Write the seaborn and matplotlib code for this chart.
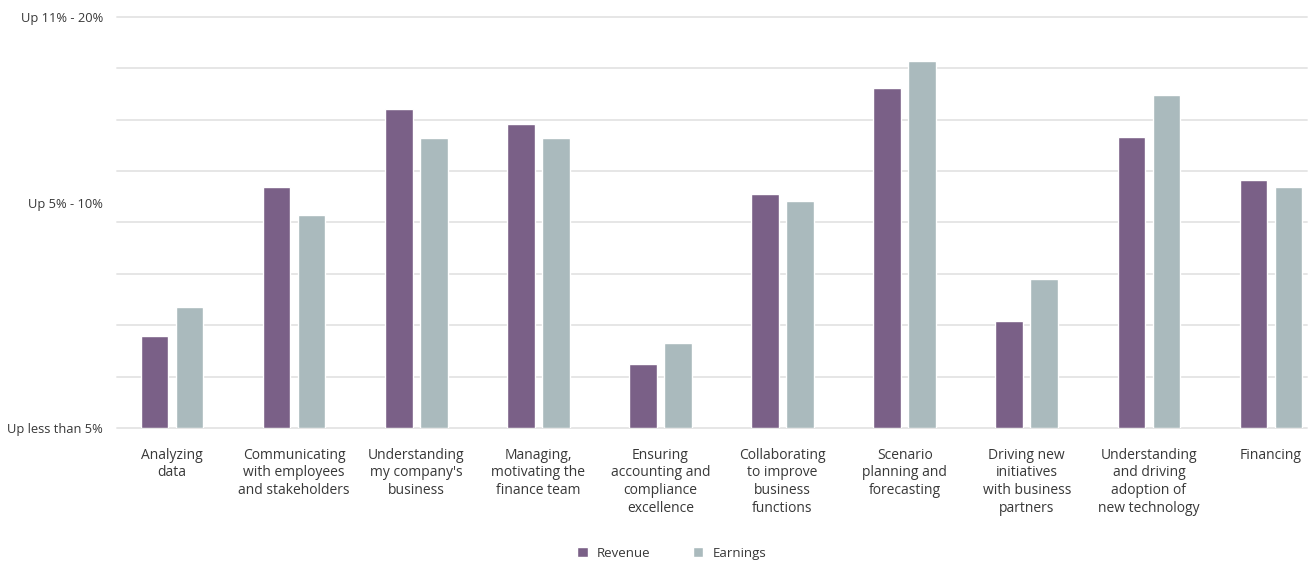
import pandas as pd
import matplotlib
matplotlib.use("Agg")
import matplotlib.pyplot as plt
import seaborn as sns

# Data (scale: 0 = bottom gridline, 8 = top gridline)
categories = [
    "Analyzing\ndata",
    "Communicating\nwith employees\nand stakeholders",
    "Understanding\nmy company's\nbusiness",
    "Managing,\nmotivating the\nfinance team",
    "Ensuring\naccounting and\ncompliance\nexcellence",
    "Collaborating\nto improve\nbusiness\nfunctions",
    "Scenario\nplanning and\nforecasting",
    "Driving new\ninitiatives\nwith business\npartners",
    "Understanding\nand driving\nadoption of\nnew technology",
    "Financing",
]
revenue = [1.79, 4.69, 6.21, 5.92, 1.25, 4.55, 6.62, 2.09, 5.66, 4.83]
earnings = [2.36, 4.15, 5.64, 5.64, 1.66, 4.42, 7.14, 2.90, 6.48, 4.69]
series_names = ["Revenue", "Earnings"]
ytick_values = [0, 4.38, 8]
ytick_labels = ["Up less than 5%", "Up 5% - 10%", "Up 11% - 20%"]

df = pd.DataFrame({
    "category": categories * 2,
    "value": revenue + earnings,
    "series": [series_names[0]] * len(categories) + [series_names[1]] * len(categories),
})

sns.set_style("white")
plt.rcParams["font.family"] = ["Open Sans", "DejaVu Sans"]

text_color = "#383838"
palette = {"Revenue": "#7a6087", "Earnings": "#aababd"}

fig = plt.figure(figsize=(13.12, 5.63), dpi=100)
ax = fig.add_axes([0.0892, 0.2393, 0.907, 0.731])

sns.barplot(data=df, x="category", y="value", hue="series", order=categories,
            hue_order=series_names, palette=palette, width=0.573, gap=0.21,
            saturation=1, ax=ax, legend=True)

ax.set_ylim(0, 8)
ax.set_xlim(-0.45, 9.295)
ax.yaxis.remove_overlapping_locs = False
ax.set_yticks(ytick_values)
ax.set_yticklabels(ytick_labels, fontsize=9.3, color=text_color)
ax.set_yticks(range(0, 9), minor=True)
ax.grid(False)
ax.grid(axis="y", which="minor", color="#e6e6e6", linewidth=1.4)
for tick in ax.yaxis.get_minor_ticks():
    tick.gridline.set_clip_on(False)
ax.set_axisbelow(True)
ax.tick_params(axis="y", which="both", length=0, pad=10)
ax.tick_params(axis="x", length=0, pad=14)
for lab in ax.get_xticklabels():
    lab.set_fontsize(10)
    lab.set_color(text_color)
    lab.set_linespacing(1.25)
    lab.set_verticalalignment("top")
ax.set_xlabel("")
ax.set_ylabel("")
sns.despine(ax=ax, left=True, bottom=True)

handles, labels = ax.get_legend_handles_labels()
ax.get_legend().remove()
leg = fig.legend(handles, labels, loc="center", bbox_to_anchor=(0.512, 0.017),
                 ncol=2, frameon=False, fontsize=9.5, handlelength=0.8,
                 handleheight=0.8, columnspacing=3.2, handletextpad=0.7)
for t in leg.get_texts():
    t.set_color(text_color)

fig.savefig("out.png", dpi=100)
